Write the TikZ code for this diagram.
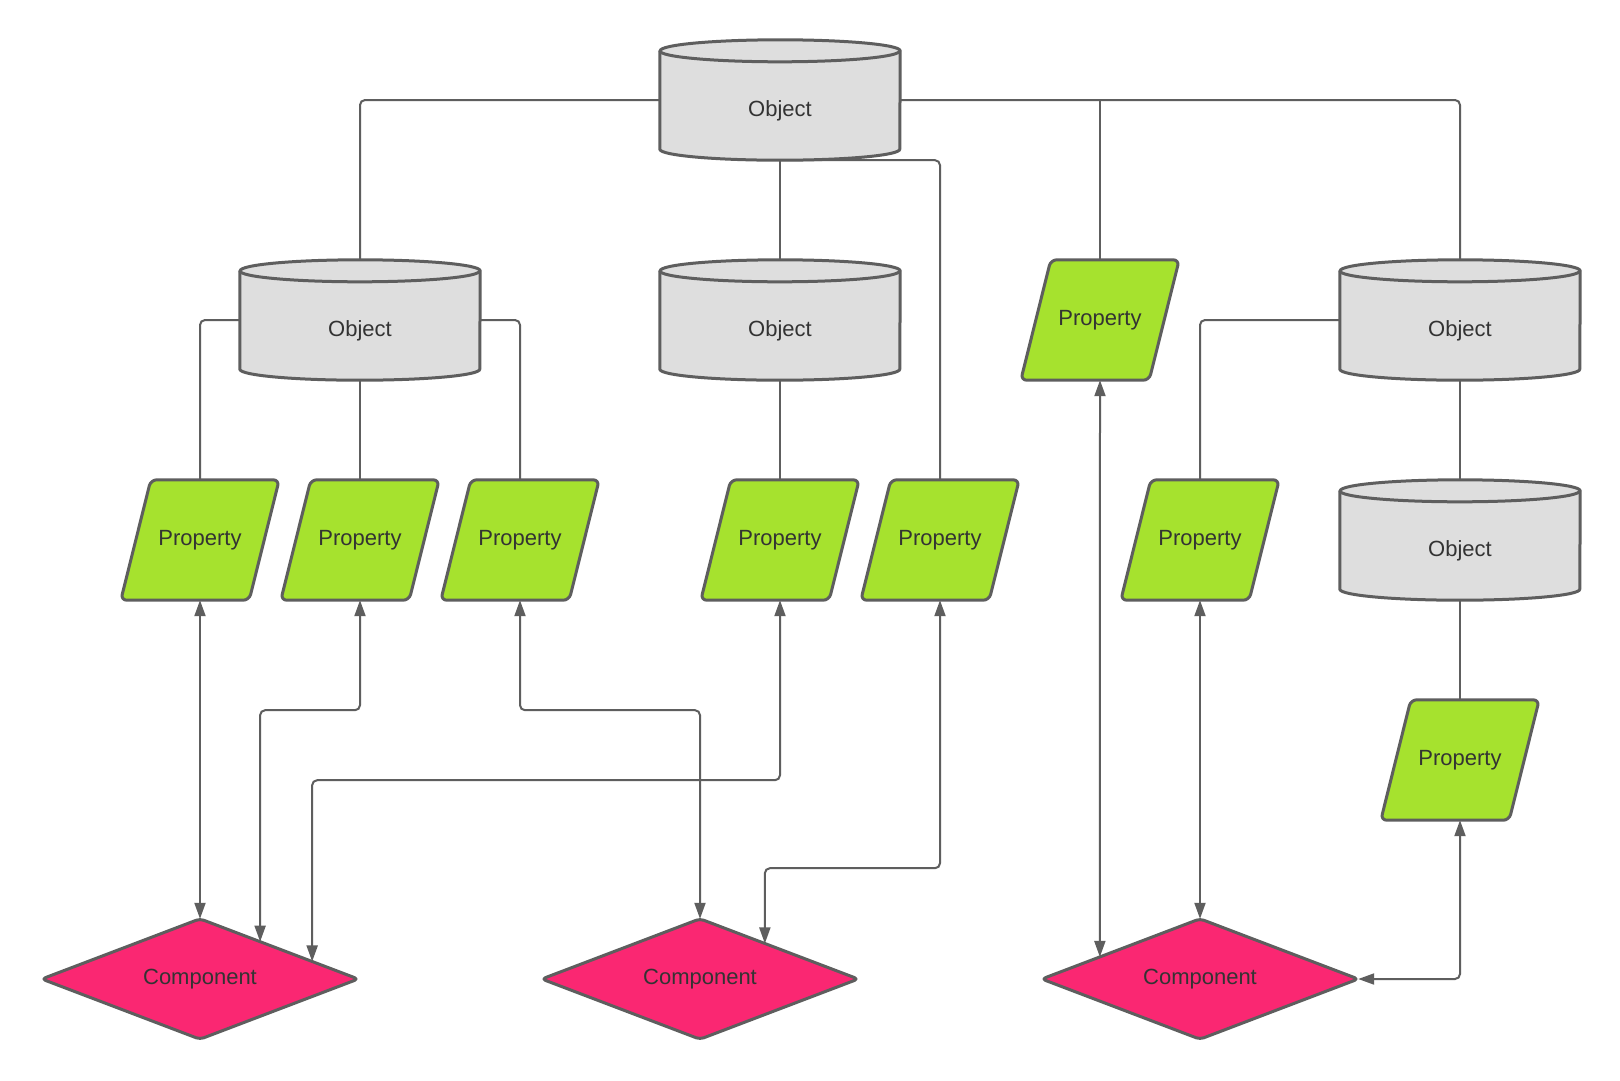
\documentclass[tikz,border=0pt]{standalone}
\usepackage{fontspec}
\setmainfont{Liberation Sans}
\usetikzlibrary{arrows.meta,calc}
\pgfdeclarelayer{bg}
\pgfsetlayers{bg,main}
\definecolor{objfill}{HTML}{DEDEDE}
\definecolor{propfill}{HTML}{A6E22E}
\definecolor{compfill}{HTML}{FA2772}
\definecolor{linec}{HTML}{5E5E5E}
\definecolor{txt}{HTML}{333333}
\newcommand\lbl{\fontsize{22pt}{26pt}\selectfont}
\newcommand\cylshape[1]{%
  \filldraw[shapeline, fill=objfill] ([yshift=-11pt]#1.north west) -- ([yshift=11pt]#1.south west)
    arc[start angle=180,end angle=360,x radius=120pt,y radius=11pt]
    -- ([yshift=-11pt]#1.north east)
    arc[start angle=0,end angle=180,x radius=120pt,y radius=11pt] -- cycle;
  \draw[shapeline] ([yshift=-11pt]#1.north west)
    arc[start angle=180,end angle=360,x radius=120pt,y radius=11pt];}
\newcommand\parashape[1]{%
  \filldraw[shapeline, fill=propfill, rounded corners=6pt]
    ([xshift=30pt]#1.north west) -- (#1.north east) -- ([xshift=-30pt]#1.south east) -- (#1.south west) -- cycle;}
\newcommand\diashape[1]{%
  \filldraw[shapeline, fill=compfill, rounded corners=4pt]
    (#1.north) -- (#1.east) -- (#1.south) -- (#1.west) -- cycle;}
\begin{document}
\begin{tikzpicture}[x=1pt,y=-1pt,
  shapeline/.style={draw=linec, line width=3pt, line join=round},
  obj/.style={rectangle, minimum width=240pt, minimum height=120pt, inner sep=0pt,
    text height=37pt, text depth=4pt, font=\lbl, text=txt},
  prop/.style={rectangle, minimum width=158pt, minimum height=120pt, inner sep=0pt, font=\lbl, text=txt},
  comp/.style={rectangle, minimum width=316pt, minimum height=120pt, inner sep=0pt, font=\lbl, text=txt},
  conn/.style={draw=linec, line width=2pt, rounded corners=5pt},
  biarrow/.style={conn, {Triangle[length=16pt,width=11pt]}-{Triangle[length=16pt,width=11pt]}}]
\useasboundingbox (0,0) rectangle (1620,1080);

% objects
\node[obj] (o0) at (780,100) {Object};
\node[obj] (o1) at (360,320) {Object};
\node[obj] (o2) at (780,320) {Object};
\node[obj] (o3) at (1460,320) {Object};
\node[obj] (o4) at (1460,540) {Object};
% properties
\node[prop] (p1) at (200,540) {Property};
\node[prop] (p2) at (360,540) {Property};
\node[prop] (p3) at (520,540) {Property};
\node[prop] (p4) at (780,540) {Property};
\node[prop] (p5) at (940,540) {Property};
\node[prop] (p6) at (1100,320) {Property};
\node[prop] (p7) at (1200,540) {Property};
\node[prop] (p8) at (1460,760) {Property};
% components
\node[comp] (c1) at (200,979) {Component};
\node[comp] (c2) at (700,979) {Component};
\node[comp] (c3) at (1200,979) {Component};

% arrow end points on diamond borders
\coordinate (c1a) at ($(c1.north)!0.38!(c1.east)$);
\coordinate (c1b) at ($(c1.north)!0.709!(c1.east)$);
\coordinate (c2a) at ($(c2.north)!0.41!(c2.east)$);
\coordinate (c3a) at ($(c3.north)!0.633!(c3.west)$);

\begin{pgfonlayer}{bg}
\fill[white] (0,0) rectangle (1620,1080);
% tree lines
\draw[conn] (o0.west) -| (o1.north);
\draw[conn] (o0.east) -| (o3.north);
\draw[conn] (o0.east -| p6.north) -- (p6.north);
\draw[conn] (o0.south) -- (o2.north);
\draw[conn] (o0.south) -| (p5.north);
\draw[conn] (o1.west) -| (p1.north);
\draw[conn] (o1.east) -| (p3.north);
\draw[conn] (o1.south) -- (p2.north);
\draw[conn] (o2.south) -- (p4.north);
\draw[conn] (o3.west) -| (p7.north);
\draw[conn] (o3.south) -- (o4.north);
\draw[conn] (o4.south) -- (p8.north);
% arrows
\draw[biarrow] (p1.south) -- (c1.north);
\draw[biarrow] (p2.south) -- ++(0,110) -| (c1a);
\draw[biarrow] (p4.south) -- ++(0,180) -| (c1b);
\draw[biarrow] (p3.south) -- ++(0,110) -| (c2.north);
\draw[biarrow] (p5.south) -- ++(0,268) -| (c2a);
\draw[biarrow] (p6.south) -- (c3a);
\draw[biarrow] (p7.south) -- (c3.north);
\draw[biarrow] (p8.south) |- (c3.east);
% shapes
\cylshape{o0}\cylshape{o1}\cylshape{o2}\cylshape{o3}\cylshape{o4}
\parashape{p1}\parashape{p2}\parashape{p3}\parashape{p4}
\parashape{p5}\parashape{p6}\parashape{p7}\parashape{p8}
\diashape{c1}\diashape{c2}\diashape{c3}
\end{pgfonlayer}
\end{tikzpicture}
\end{document}
